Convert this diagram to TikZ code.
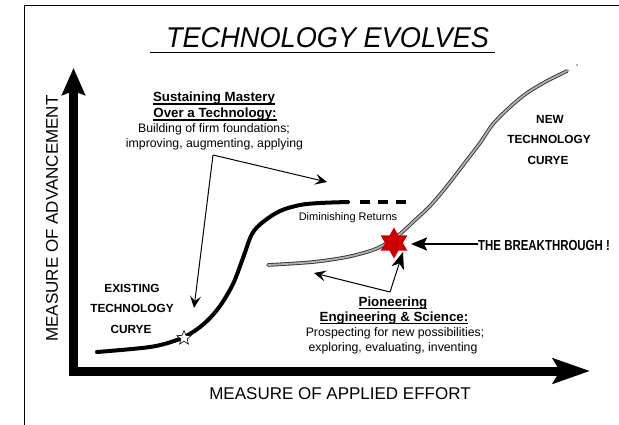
\documentclass[tikz,border=0pt]{standalone}
\usepackage{fontspec}
\setmainfont{Liberation Sans}
\usetikzlibrary{arrows.meta,shapes.geometric}
\definecolor{starred}{RGB}{204,0,0}
\newcommand\myul[1]{\setbox0\hbox{#1}\rlap{\rule[-2.6pt]{\wd0}{1.1pt}}\box0}
\begin{document}
\begin{tikzpicture}[x=1pt,y=-1pt,
  lbl/.style={inner sep=0pt, anchor=base},
  small/.style={lbl, font=\fontsize{12.3}{15}\selectfont},
  headtxt/.style={lbl, font=\fontsize{13.3}{15}\selectfont\bfseries},
  capstxt/.style={lbl, font=\fontsize{11.8}{14}\selectfont\bfseries},
  axislbl/.style={inner sep=0pt, font=\fontsize{17}{20}\selectfont},
  thinline/.style={line width=1pt},
  barb/.style={-{Stealth[length=12pt,width=11pt,inset=5pt]}},
  solidhead/.style={-{Stealth[length=17pt,width=13pt,inset=5pt]}},
  oldcurve/.style={line width=4pt, line cap=round, line join=round},
  newcurve/.style={draw=black!80, double=gray!60, double distance=1.8pt, line width=0.9pt, line cap=round},
]
\useasboundingbox (0,0) rectangle (619,425);
\fill[white] (0,0) rectangle (619,425);

% frame
\draw[line width=1pt] (24,425) -- (24,6) -- (619,6);

% title
\node[lbl, font=\fontsize{28}{30}\selectfont\itshape] (title) at (327.5,47.5) {\scalebox{0.97}[1.02]{TECHNOLOGY EVOLVES}};
\draw[line width=1.3pt] (150,52.5) -- (495,52.5);

% axes
\coordinate (ytip) at (73.5,68);
\coordinate (origin) at (73.5,371);
\coordinate (xtip) at (590,371);
\draw[line width=9pt, line join=miter,
  {Stealth[length=27pt,width=23pt,inset=4pt]}-{Stealth[length=37pt,width=25pt,inset=7pt]}]
  (ytip) -- (origin) -- (xtip);
\node[axislbl, rotate=90] (ylab) at (52,218.5) {MEASURE OF ADVANCEMENT};
\node[axislbl] (xlab) at (340,394) {MEASURE OF APPLIED EFFORT};

% existing technology curve
\draw[oldcurve] plot[smooth, tension=0.55] coordinates {
 (97,352) (150,347) (177,340) (193,332) (207,321) (220,306) (233,284)
 (243,258) (252,234) (263,222) (280,211) (300,205) (320,203) (348,202)};
\draw[line width=4pt, dash pattern=on 10pt off 8pt] (360,202) -- (408,202);
\node[lbl, font=\fontsize{11}{13}\selectfont] (dim) at (348,220) {Diminishing Returns};
\node[star, star points=5, star point ratio=2.3, minimum size=15pt, inner sep=0pt,
  draw, fill=white, line width=0.6pt] (s1) at (184,338) {};

% new technology curve
\draw[newcurve] plot[smooth, tension=0.55] coordinates {
 (268,265) (313,262) (347,257) (373,250) (387,243) (400,234) (413,222)
 (430,206) (447,186) (467,160) (480,143) (493,124) (510,107) (527,93) (547,81) (567,71)};
\fill[gray] (577,65) circle (1pt);
\node[star, star points=6, star point ratio=1.75, minimum size=31pt, inner sep=0pt,
  fill=starred] (bt) at (394,243) {};

% breakthrough
\node[lbl, anchor=base west, font=\fontsize{14.5}{16}\selectfont\bfseries] (btl) at (478,251)
  {\scalebox{0.79}[1]{THE BREAKTHROUGH !}};
\coordinate (bttip) at (411,244);
\draw[line width=2.6pt, -{Stealth[length=16pt,width=13pt,inset=3pt]}] (btl.west |- bttip) -- (bttip);

% labels existing
\node[capstxt] (ex1) at (132,292) {EXISTING};
\node[capstxt] (ex2) at (132,312) {TECHNOLOGY};
\node[capstxt] (ex3) at (131,333) {CURYE};
\node[capstxt] (nw1) at (550,124) {NEW};
\node[capstxt] (nw2) at (549,144) {TECHNOLOGY};
\node[capstxt] (nw3) at (548,165) {CURYE};

% sustaining
\node[headtxt] (su1) at (214,102) {\myul{Sustaining Mastery}};
\node[headtxt] (su2) at (215,118) {\myul{Over a Technology:}};
\node[small] (su3) at (214,133) {Building of firm foundations;};
\node[small] (su4) at (214.5,148) {improving, augmenting, applying};
\coordinate (v1) at (213,155);
\coordinate (s1tip) at (327,182);
\coordinate (s2tip) at (194,308);
\draw[thinline, barb] (v1) -- (s1tip);
\draw[thinline, barb] (v1) -- (s2tip);

% pioneering
\node[headtxt] (pi1) at (393,306) {\myul{Pioneering}};
\node[headtxt] (pi2) at (394,321) {\myul{Engineering \& Science:}};
\node[small] (pi3) at (395,336) {Prospecting for new possibilities;};
\node[small] (pi4) at (393,351) {exploring, evaluating, inventing};
\coordinate (v2) at (390,292);
\coordinate (p1tip) at (314,273);
\coordinate (p2tip) at (403,252);
\draw[thinline, barb] (v2) -- (p1tip);
\draw[thinline, solidhead] (v2) -- (p2tip);
\end{tikzpicture}
\end{document}
